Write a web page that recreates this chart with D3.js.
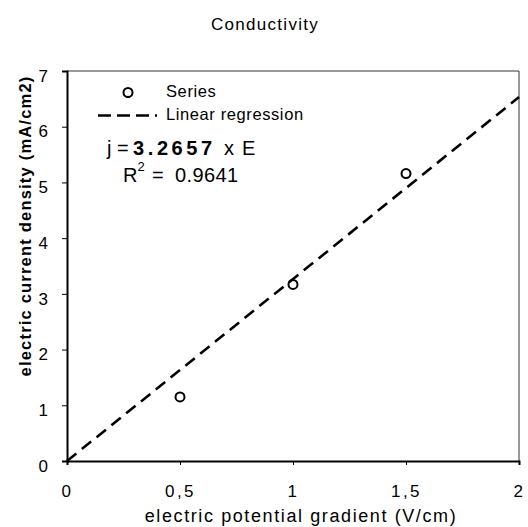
<!DOCTYPE html>
<html><head><meta charset="utf-8">
<script src="https://cdn.jsdelivr.net/npm/d3@7"></script>
<style>
body{margin:0;background:#fff;}
svg{font-family:"Liberation Sans",Arial,sans-serif;}
</style></head>
<body><svg id="c" width="528" height="527"></svg>
<script>
const xValues = [0.5, 1.0, 1.5];
const yValues = [1.15, 3.17, 5.16];
const slope = 3.2657;
const rSquared = "0.9641";
const xTicks = [0, 0.5, 1, 1.5, 2];
const xTickLabels = ["0", "0,5", "1", "1,5", "2"];
const yTicks = [0, 1, 2, 3, 4, 5, 6, 7];
const title = "Conductivity";
const xTitle = "electric potential gradient (V/cm)";
const yTitle = "electric current density (mA/cm2)";
const seriesNames = ["Series", "Linear regression"];

const svg = d3.select("#c");
const L = 67, R = 519, T = 71, B = 461;
const x = d3.scaleLinear().domain([0, 2]).range([L, R]);
const y = d3.scaleLinear().domain([0, 7]).range([B, T]);

svg.append("text").attr("x", 265).attr("y", 30).attr("text-anchor", "middle")
  .attr("font-size", 17).attr("letter-spacing", 1.3).text(title);

// frame
svg.append("line").attr("x1", L).attr("x2", R).attr("y1", T).attr("y2", T).attr("stroke", "#333").attr("stroke-width", 1);
svg.append("line").attr("x1", R).attr("x2", R).attr("y1", T).attr("y2", B).attr("stroke", "#333").attr("stroke-width", 1);

const xAxis = d3.axisBottom(x).tickValues(xTicks).tickSize(4).tickPadding(20)
  .tickFormat((d, i) => xTickLabels[i]);
const gx = svg.append("g").attr("transform", `translate(0,${B})`).call(xAxis);
gx.select(".domain").attr("stroke", "#000").attr("stroke-width", 2);
gx.selectAll(".tick line").attr("stroke", "#000");
gx.selectAll("text").attr("font-size", 17).attr("letter-spacing", 2.5).attr("fill", "#000")
  .attr("font-family", "Liberation Sans, Arial, sans-serif");

const yAxis = d3.axisLeft(y).tickValues(yTicks).tickSize(5).tickPadding(14).tickFormat(d3.format("d"));
const gy = svg.append("g").attr("transform", `translate(${L},0)`).call(yAxis);
gy.select(".domain").attr("stroke", "#000").attr("stroke-width", 2);
gy.selectAll(".tick line").attr("stroke", "#000");
gy.selectAll("text").attr("font-size", 17).attr("dy", "0.6em").attr("fill", "#000")
  .attr("font-family", "Liberation Sans, Arial, sans-serif");

svg.append("text").attr("x", 301).attr("y", 522).attr("text-anchor", "middle")
  .attr("font-size", 18).attr("letter-spacing", 1.6).text(xTitle);
svg.append("text").attr("transform", "translate(31,226) rotate(-90)").attr("text-anchor", "middle")
  .attr("font-size", 16.5).attr("font-weight", "bold").attr("letter-spacing", 1.2).text(yTitle);

// regression line
const line = d3.line().x(d => x(d)).y(d => y(slope * d));
svg.append("path").datum([0, 2]).attr("d", line).attr("fill", "none")
  .attr("stroke", "#000").attr("stroke-width", 2.6).attr("stroke-dasharray", "12,7");

// points
svg.selectAll("circle.pt").data(xValues).join("circle").attr("class", "pt")
  .attr("cx", d => x(d)).attr("cy", (d, i) => y(yValues[i])).attr("r", 4.5)
  .attr("fill", "none").attr("stroke", "#000").attr("stroke-width", 2);

// legend
svg.append("circle").attr("cx", 128).attr("cy", 92.5).attr("r", 4.5).attr("fill", "none")
  .attr("stroke", "#000").attr("stroke-width", 2);
svg.append("text").attr("x", 166).attr("y", 97).attr("font-size", 16.5).attr("letter-spacing", 0.6).text(seriesNames[0]);
svg.append("line").attr("x1", 98).attr("x2", 157).attr("y1", 115.5).attr("y2", 115.5)
  .attr("stroke", "#000").attr("stroke-width", 2.6).attr("stroke-dasharray", "13,6");
svg.append("text").attr("x", 166).attr("y", 120).attr("font-size", 16.5).attr("letter-spacing", 0.6).text(seriesNames[1]);

const eq = svg.append("text").attr("y", 155).attr("font-size", 20);
eq.append("tspan").attr("x", 107).text("j");
eq.append("tspan").attr("x", 117).text("=");
eq.append("tspan").attr("x", 133).attr("font-weight", "bold").attr("letter-spacing", 3.6).text(slope.toFixed(4));
eq.append("tspan").attr("x", 224).text("x");
eq.append("tspan").attr("x", 242).text("E");

const r2 = svg.append("text").attr("y", 181.5).attr("font-size", 20);
r2.append("tspan").attr("x", 123).text("R");
r2.append("tspan").attr("x", 137.5).attr("font-size", 13).attr("dy", -11).text("2");
r2.append("tspan").attr("x", 152).attr("dy", 11).text("=");
r2.append("tspan").attr("x", 175).attr("letter-spacing", 0.4).text(rSquared);
</script></body></html>
